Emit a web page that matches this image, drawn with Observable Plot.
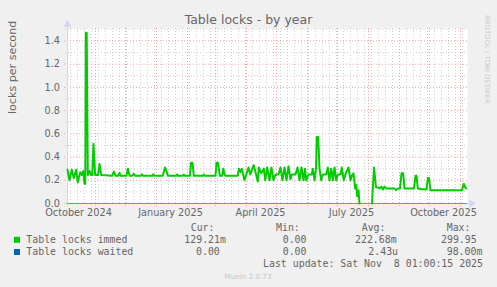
<!DOCTYPE html>
<html><head><meta charset="utf-8">
<script src="https://cdn.jsdelivr.net/npm/d3@7"></script>
<script src="https://cdn.jsdelivr.net/npm/@observablehq/plot@0.6"></script>
<style>
html,body{margin:0;padding:0;background:#f0f0f0;}
#chart{width:497px;height:287px;overflow:hidden;}
</style></head><body><div id="chart"></div>
<script>
// ---- data ----
const title = "Table locks - by year";
const yLabel = "locks per second";
const startDate = "2024-10-04";
const endDate = "2025-11-08";
// day offsets from startDate and values (locks/s) for "Table locks immed"
const immedDay = [0,2,4.3,6.3,8.7,10.3,12.7,14.3,15.7,17,17.8,18.3,19.2,20.3,22,23.7,24.8,26,27.6,30.5,32,33.7,
  45,46.3,48,51,52,53,59,60.3,62,65,66.3,67.5,73.5,74.5,75.5,85,85.8,86.8,95.3,97.5,99,100.3,
  109,109.7,110.5,115.5,116.3,117,122.5,123.5,125,126.3,135.7,136.3,137,148,149,150.5,152.3,154.7,155.8,157.5,
  170.3,171.3,173,174.3,177,181,182.7,186.3,190.3,191.3,193.7,196.3,197.7,199.7,202,204,206,208,211,213,215,217,219,221,223,
  224.5,228,230,232,234,236,237.5,238.7,241,244.3,245.3,247,248.5,249.3,250.7,252,253.7,255.3,258.7,260.3,262,263.7,265.3,
  267,268.7,270.3,273,274.3,276.3,278.7,281,283,284.5,286,287.7,288.7,289.7,291,292,298,
  304.5,306.5,308.5,310,312,314,315.5,317,319,327,328.7,330.3,332.5,334,335.7,337,346.5,348,349,350.3,353,359,360.3,361.5,363,
  394.5,396.3,398,399];
const immedVal = [0.29,0.20,0.29,0.22,0.29,0.18,0.27,0.245,0.28,0.17,0.17,1.47,1.47,0.245,0.28,0.245,0.245,0.515,0.245,0.245,0.34,0.245,
  0.24,0.275,0.24,0.24,0.265,0.24,0.24,0.30,0.24,0.24,0.255,0.24,0.24,0.252,0.24,0.24,0.252,0.24,0.24,0.31,0.28,0.24,
  0.24,0.25,0.24,0.24,0.25,0.24,0.24,0.35,0.35,0.24,0.24,0.25,0.24,0.24,0.35,0.35,0.24,0.24,0.30,0.24,
  0.24,0.30,0.27,0.30,0.20,0.31,0.25,0.33,0.19,0.31,0.26,0.30,0.20,0.31,0.20,0.31,0.20,0.25,0.25,0.31,0.20,0.31,0.20,0.32,0.21,
  0.25,0.25,0.31,0.20,0.31,0.20,0.30,0.20,0.25,0.25,0.30,0.20,0.30,0.573,0.573,0.30,0.20,0.25,0.25,0.31,0.20,0.30,0.20,
  0.31,0.20,0.25,0.25,0.31,0.20,0.27,0.31,0.20,0.24,0.26,0.13,0.16,0.06,0.115,0.0,null,
  0.0,0.31,0.14,0.14,0.13,0.145,0.12,0.145,0.13,0.13,0.115,0.13,0.13,0.26,0.26,0.13,0.13,0.24,0.24,0.13,0.125,0.12,0.22,0.22,0.115,
  0.115,0.17,0.135,0.129];
// "Table locks waited" stays at zero
const waitedDay = [0, 399];
const waitedVal = [0, 0];
const yTickValues = [0, 0.2, 0.4, 0.6, 0.8, 1.0, 1.2, 1.4];
const yTickLabels = ["0.0","0.2","0.4","0.6","0.8","1.0","1.2","1.4"];
const yMinorTicks = [0.1, 0.3, 0.5, 0.7, 0.9, 1.1, 1.3, 1.5];
const yMax = 1.507;
const xTickDates = ["2024-10-15","2025-01-15","2025-04-15","2025-07-15","2025-10-15"];
const xTickLabels = ["October 2024","January 2025","April 2025","July 2025","October 2025"];
const legendNames = ["Table locks immed","Table locks waited"];
const legendColors = ["#00cc00","#0066b3"];
const statHeaders = ["Cur:","Min:","Avg:","Max:"];
const immedStats = ["129.21m","0.00","222.68m","299.95"];
const waitedStats = ["0.00","0.00","2.43u","98.00m"];
const lastUpdate = "Last update: Sat Nov  8 01:00:15 2025";
const muninText = "Munin 2.0.73";
const rrdMark = "RRDTOOL / TOBI OETIKER";

// ---- build ----
const DAY = 864e5;
const t0 = new Date(startDate + "T00:00:00Z");
const t1 = new Date(endDate + "T00:00:00Z");
const toDate = d => new Date(+t0 + d * DAY);
const immed = immedDay.map((d, i) => ({date: toDate(d), v: immedVal[i]}));
const waited = waitedDay.map((d, i) => ({date: toDate(d), v: waitedVal[i]}));
const months = d3.utcMonth.range(d3.utcMonth.ceil(t0), t1);
const weeks = d3.utcMonday.range(t0, t1);
const xTicks = xTickDates.map(s => new Date(s + "T00:00:00Z"));
const xLabelMap = new Map(xTicks.map((d, i) => [+d, xTickLabels[i]]));
const yLabelMap = new Map(yTickValues.map((v, i) => [v, yTickLabels[i]]));

const AXIS = "#cfd6f8";
const MINOR = "#cfcfcf";
const MAJOR = "#f2a0a0";

const plot = Plot.plot({
  width: 497, height: 287,
  marginLeft: 67, marginRight: 30, marginTop: 28, marginBottom: 84,
  style: {background: "transparent", fontFamily: "'DejaVu Sans', sans-serif", fontSize: "9.72px", color: "#666", overflow: "visible"},
  x: {type: "utc", domain: [t0, t1]},
  y: {domain: [0, yMax]},
  marks: [
    Plot.frame({fill: "#ffffff", stroke: null}),
    Plot.ruleY(yMinorTicks, {stroke: MINOR, strokeDasharray: "1,2", insetLeft: -2}),
    Plot.ruleX(weeks, {stroke: MINOR, strokeDasharray: "1,2", insetBottom: -2}),
    Plot.ruleY(yTickValues.filter(v => v > 0), {stroke: MAJOR, strokeDasharray: "1,2", insetLeft: -3}),
    Plot.ruleX(months, {stroke: MAJOR, strokeDasharray: "1,2", insetBottom: -3}),
    Plot.ruleX([t0], {stroke: AXIS, insetTop: -5, insetBottom: -3}),
    Plot.ruleY([0], {stroke: AXIS, insetLeft: -3, insetRight: -4}),
    Plot.dot([t0], {x: d => d, frameAnchor: "top", dy: -4, symbol: "triangle", r: 3, fill: AXIS, stroke: null}),
    Plot.dot([0], {y: d => d, frameAnchor: "right", dx: 4, rotate: 90, symbol: "triangle", r: 3, fill: AXIS, stroke: null}),
    Plot.line(waited, {x: "date", y: "v", stroke: legendColors[1], strokeWidth: 1, strokeOpacity: 0.55}),
    Plot.line(immed, {x: "date", y: "v", stroke: legendColors[0], strokeWidth: 2}),
    Plot.axisY({ticks: yTickValues, tickFormat: d => yLabelMap.get(d), tickSize: 0, tickPadding: 7.5, label: null}),
    Plot.axisX({ticks: xTicks, tickFormat: d => xLabelMap.get(+d), tickSize: 0, tickPadding: 6, label: null}),
    Plot.text([yLabel], {frameAnchor: "left", rotate: -90, dx: -55, dy: -2, fontSize: 11.1, fill: "#666"})
  ]
});
document.getElementById("chart").appendChild(plot);

const svg = d3.select(plot);
svg.append("text").attr("x", 248.5).attr("y", 23.8).attr("text-anchor", "middle")
  .attr("font-family", "'DejaVu Sans', sans-serif").attr("font-size", 12.5).attr("fill", "#666").text(title);

const lg = svg.append("g").attr("font-family", "'DejaVu Sans Mono', monospace").attr("font-size", 9.9)
  .attr("fill", "#666").attr("text-anchor", "start").attr("xml:space", "preserve").style("white-space", "pre");
const headX = [190.7, 276, 361.7, 446.7];
statHeaders.forEach((h, i) => lg.append("text").attr("x", headX[i]).attr("y", 231).text(h));
const rowY = [243, 255.3];
const swY = [236.8, 249];
legendNames.forEach((n, i) => {
  lg.append("rect").attr("x", 14).attr("y", swY[i]).attr("width", 6).attr("height", 6).attr("fill", legendColors[i]);
  lg.append("text").attr("x", 26.3).attr("y", rowY[i]).text(n);
});
const row1X = [184.3, 282.7, 355, 441];
const row2X = [196, 282.7, 368.3, 446.7];
immedStats.forEach((s, i) => lg.append("text").attr("x", row1X[i]).attr("y", rowY[0]).text(s));
waitedStats.forEach((s, i) => lg.append("text").attr("x", row2X[i]).attr("y", rowY[1]).text(s));
lg.append("text").attr("x", 483).attr("y", 266.8).attr("text-anchor", "end").text(lastUpdate);

svg.append("text").attr("x", 248).attr("y", 278.6).attr("text-anchor", "middle")
  .attr("font-family", "'DejaVu Sans', sans-serif").attr("font-size", 7.2).attr("fill", "#c4c4c4").text(muninText);
svg.append("text").attr("transform", "translate(485,15) rotate(90)").attr("text-anchor", "start")
  .attr("font-family", "'DejaVu Sans', sans-serif").attr("font-size", 6.9).attr("fill", "#c8c8c8").text(rrdMark);
</script></body></html>
